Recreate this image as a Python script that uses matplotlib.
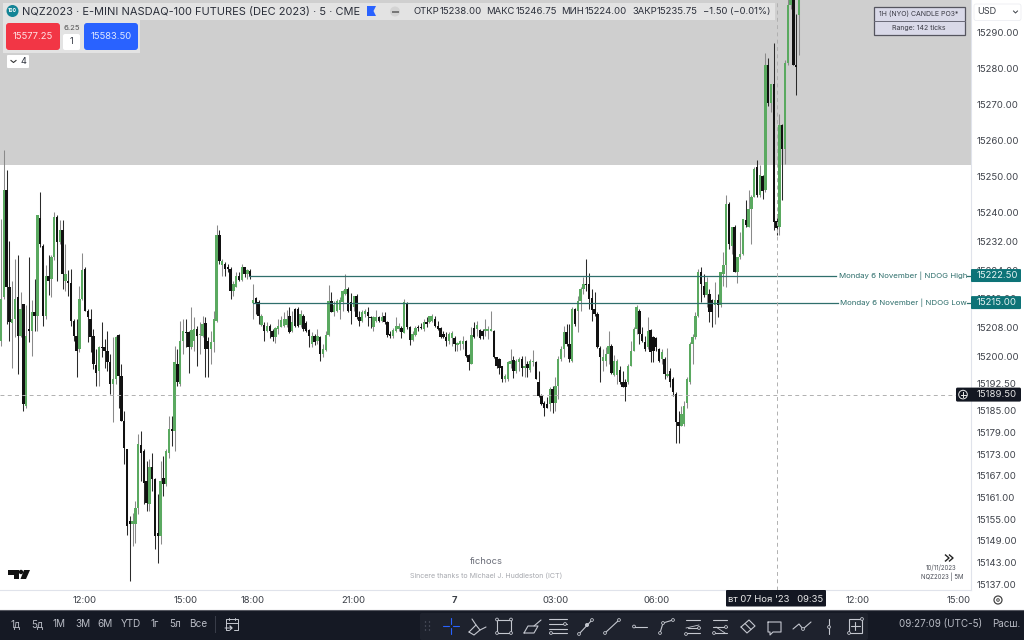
import matplotlib
matplotlib.use('Agg')
import matplotlib.pyplot as plt
from matplotlib.patches import Rectangle, FancyBboxPatch, Circle, Polygon

plt.rcParams['font.family'] = ['Inter', 'DejaVu Sans']

# NQZ2023 5 minute candles, points above 15000
base_price = 15000
direction = ("GGBBGGBGBG" "BGBGBBGBGG" "BGBGBBBBGG" "BBBBBGBBBB" "GGBBBBBGGG" "BBBGBBBGBG"
             "GBGBGGBBGG" "BGGBBGGGBG" "BBBGGBGBGB" "GBBGBGBBGG" "GGGBGBBGBB" "BGBGBGGGBG"
             "GGGGBBGBBG" "GBBGGBGBBB" "GGGBGBBGGB" "BGBGGBBBBB" "GGBGGGBBGB" "GBBGGGBBBB"
             "GGGBGGBGBG" "GBBBBBGBGG" "GGBBGBGGGB" "BBBBBGGGBG" "GBBBGGGGBB" "BGBBBBGBGB"
             "BBBGGGGGGG" "BBGBBGBGGG" "BGBGGGBGGG" "BGBGBGBBGB" "GGGBBG")
body_top = [216.0, 246.3, 246.3, 219.3, 210.5, 216.0, 216.5, 213.2, 214.6, 205.8,
            207.7, 212.3, 212.3, 239.2, 238.5, 230.8, 222.5, 222.5, 227.6, 238.7,
            238.7, 235.2, 235.2, 223.0, 221.1, 220.4, 210.0, 205.8, 216.0, 223.9,
            224.4, 212.6, 210.5, 205.8, 197.8, 202.6, 202.8, 202.8, 201.7, 198.4,
            193.8, 205.4, 206.1, 194.7, 182.2, 174.4, 154.4, 154.4, 158.1, 175.7,
            175.6, 173.9, 165.6, 169.3, 169.3, 166.0, 151.2, 165.6, 166.3, 173.9,
            179.9, 179.9, 198.4, 198.1, 204.4, 207.2, 206.8, 206.8, 207.4, 207.7,
            207.7, 206.3, 209.1, 209.3, 204.4, 204.0, 210.5, 233.6, 233.6, 226.5,
            225.6, 224.8, 224.4, 220.2, 222.5, 222.5, 225.0, 224.8, 223.9, 223.7,
            215.7, 216.2, 215.1, 211.4, 208.9, 208.6, 208.6, 207.2, 207.9, 208.6,
            210.2, 210.5, 210.5, 211.4, 209.5, 213.2, 213.2, 211.8, 211.3, 209.3,
            207.4, 205.8, 205.8, 205.8, 205.6, 202.1, 206.1, 215.5, 215.5, 214.2,
            215.5, 215.7, 218.3, 218.8, 218.8, 215.1, 216.7, 216.7, 210.9, 212.3,
            212.6, 212.5, 211.1, 210.9, 211.1, 211.1, 211.1, 211.4, 209.5, 206.3,
            207.4, 208.6, 208.6, 207.9, 215.1, 214.8, 208.3, 206.3, 207.9, 208.3,
            208.3, 209.5, 209.5, 211.4, 211.4, 210.5, 208.6, 207.9, 206.3, 205.6,
            206.3, 206.5, 205.2, 203.7, 204.3, 204.4, 204.3, 200.5, 206.1, 207.9,
            208.9, 207.4, 207.2, 207.7, 207.7, 207.7, 207.2, 199.8, 199.3, 197.3,
            194.7, 198.4, 198.9, 199.1, 198.9, 199.3, 199.3, 197.5, 198.0, 198.9,
            198.9, 198.4, 192.9, 189.2, 187.3, 187.0, 191.0, 191.0, 191.9, 199.3,
            202.1, 206.8, 206.8, 203.5, 213.2, 213.2, 215.5, 218.8, 220.2, 220.2,
            220.2, 216.2, 213.2, 211.8, 202.4, 199.8, 200.7, 203.0, 203.0, 198.9,
            198.9, 196.3, 192.9, 192.9, 197.5, 201.7, 207.7, 213.7, 212.6, 206.3,
            204.0, 207.2, 207.4, 205.4, 205.2, 202.1, 201.2, 199.3, 195.2, 196.1,
            193.8, 189.8, 181.8, 184.1, 186.4, 193.8, 203.5, 205.4, 211.4, 223.4,
            223.4, 219.7, 220.6, 217.4, 215.6, 215.6, 215.6, 223.4, 225.3, 242.4,
            242.2, 235.9, 235.9, 227.6, 228.5, 238.2, 237.8, 241.0, 244.3, 252.1,
            252.6, 250.3, 250.0, 280.8, 280.8, 275.7, 275.6, 237.6, 264.2, 264.2,
            281.3, 297.5, 305.0, 305.0, 280.8, 303.0]
body_bottom = [204.4, 216.5, 219.3, 209.5, 209.3, 210.5, 205.8, 205.8, 186.9, 186.4,
               207.0, 207.2, 211.4, 211.4, 231.3, 211.4, 211.4, 221.1, 221.6, 227.6,
               231.8, 231.8, 223.0, 221.1, 220.4, 210.0, 205.8, 201.7, 202.1, 216.0,
               212.8, 210.9, 205.4, 198.0, 195.6, 196.1, 202.4, 201.5, 198.4, 192.4,
               192.4, 193.8, 194.7, 182.2, 174.8, 153.1, 153.5, 153.5, 153.5, 158.1,
               173.4, 165.1, 159.5, 159.1, 166.0, 150.3, 150.3, 150.3, 164.8, 164.6,
               173.4, 179.4, 179.4, 192.9, 192.4, 204.4, 206.5, 202.8, 202.6, 204.4,
               205.8, 206.0, 205.8, 202.1, 202.1, 202.1, 204.0, 210.0, 226.5, 225.3,
               224.4, 224.4, 218.3, 218.3, 219.3, 221.3, 221.3, 223.0, 223.0, 222.0,
               214.8, 214.6, 211.4, 208.9, 207.2, 207.0, 207.2, 205.4, 205.6, 207.7,
               208.3, 208.6, 208.9, 206.8, 207.2, 208.6, 208.6, 208.9, 207.7, 207.2,
               205.8, 203.5, 204.0, 204.3, 200.7, 200.7, 201.9, 206.1, 212.3, 212.3,
               212.8, 213.0, 215.1, 217.4, 212.8, 212.8, 213.7, 210.9, 210.0, 210.0,
               211.8, 211.4, 210.6, 208.1, 209.8, 210.0, 209.8, 209.5, 206.0, 205.8,
               205.8, 207.2, 207.7, 206.8, 206.5, 208.3, 204.6, 204.6, 206.1, 207.9,
               207.9, 207.7, 209.1, 209.5, 210.0, 208.6, 207.7, 205.6, 205.6, 204.3,
               204.3, 205.2, 203.5, 203.3, 203.5, 203.5, 200.3, 198.4, 198.1, 205.4,
               207.7, 205.2, 205.8, 207.2, 207.2, 207.2, 199.8, 197.5, 197.0, 193.8,
               193.8, 193.8, 198.0, 196.1, 196.1, 198.4, 197.0, 196.8, 196.8, 196.3,
               198.4, 193.8, 189.2, 186.9, 185.9, 185.9, 186.8, 187.3, 187.3, 191.9,
               199.3, 202.1, 203.5, 199.3, 198.9, 209.1, 212.8, 215.5, 218.8, 220.0,
               216.0, 213.0, 211.8, 202.6, 199.8, 198.9, 198.9, 200.7, 195.6, 195.0,
               195.0, 192.9, 191.7, 191.5, 192.9, 197.5, 201.7, 207.7, 206.3, 204.4,
               202.1, 202.6, 201.2, 201.7, 202.6, 198.9, 199.3, 195.2, 194.7, 192.9,
               190.1, 181.8, 180.8, 180.8, 181.3, 187.3, 192.9, 203.5, 205.4, 211.4,
               220.2, 217.0, 217.0, 212.3, 212.3, 214.2, 214.2, 214.2, 223.0, 225.3,
               231.3, 230.8, 223.4, 223.4, 227.6, 228.5, 236.4, 235.9, 241.0, 244.3,
               244.7, 244.7, 245.9, 246.1, 270.2, 270.2, 237.3, 235.7, 235.9, 257.7,
               257.7, 281.3, 297.5, 280.8, 280.3, 294.7]
wick_top = [238.2, 257.2, 251.7, 232.2, 221.1, 227.1, 228.1, 217.9, 214.6, 214.2,
            227.6, 215.6, 221.6, 239.2, 245.6, 231.3, 225.3, 228.1, 228.1, 240.1,
            239.2, 238.0, 238.0, 231.3, 223.9, 224.4, 210.5, 210.5, 219.7, 228.7,
            224.8, 213.2, 213.2, 207.7, 202.1, 203.1, 209.5, 204.9, 207.2, 200.7,
            205.4, 205.8, 206.3, 198.0, 185.0, 174.4, 155.8, 156.8, 160.0, 178.5,
            179.4, 174.4, 171.1, 171.6, 173.4, 166.5, 161.9, 171.1, 172.5, 174.4,
            183.6, 183.6, 203.1, 202.1, 210.0, 210.5, 210.5, 207.2, 213.7, 210.9,
            208.6, 209.5, 211.4, 210.9, 205.4, 207.2, 212.8, 236.4, 235.0, 227.1,
            226.2, 225.7, 224.8, 221.1, 223.4, 223.4, 225.7, 225.0, 224.4, 224.4,
            220.2, 216.5, 215.6, 211.8, 209.5, 209.7, 209.1, 207.7, 208.1, 210.5,
            211.4, 212.3, 213.0, 213.7, 212.8, 213.5, 213.9, 213.0, 211.8, 209.8,
            207.7, 206.8, 206.3, 207.7, 205.8, 203.5, 207.2, 219.9, 217.9, 215.5,
            216.0, 216.5, 218.5, 222.8, 219.3, 217.6, 216.9, 217.4, 212.8, 213.0,
            213.2, 213.7, 211.4, 211.4, 213.0, 211.4, 212.3, 212.3, 209.8, 207.2,
            208.0, 211.1, 209.3, 208.6, 216.0, 215.1, 208.6, 207.2, 208.6, 208.9,
            209.3, 210.5, 210.9, 211.4, 211.8, 211.4, 210.0, 208.3, 207.2, 206.8,
            206.8, 207.0, 205.8, 204.0, 204.6, 205.8, 204.6, 200.7, 208.3, 209.5,
            210.0, 207.7, 207.7, 210.5, 208.6, 212.6, 207.4, 200.0, 199.6, 197.5,
            195.2, 198.9, 202.0, 200.3, 199.3, 200.0, 200.3, 200.3, 198.9, 199.3,
            201.8, 198.9, 196.1, 189.6, 187.8, 188.7, 191.5, 191.9, 194.3, 200.3,
            203.0, 208.6, 209.1, 209.1, 213.7, 213.5, 216.9, 219.3, 222.2, 227.1,
            223.1, 218.8, 217.9, 212.3, 203.0, 202.1, 202.6, 207.2, 203.5, 200.5,
            199.3, 197.5, 196.1, 193.8, 198.0, 204.4, 208.1, 214.2, 213.2, 208.1,
            205.8, 210.9, 207.7, 205.8, 205.5, 202.4, 202.1, 199.8, 202.4, 197.0,
            194.3, 190.1, 185.0, 186.4, 187.8, 194.3, 204.0, 206.3, 212.3, 224.3,
            224.8, 223.0, 222.0, 218.8, 216.0, 220.6, 217.4, 223.4, 229.0, 244.7,
            242.9, 235.9, 236.4, 227.6, 234.5, 238.2, 243.5, 246.1, 244.7, 252.6,
            254.6, 253.1, 250.3, 284.3, 282.7, 275.7, 287.0, 239.6, 267.4, 264.6,
            282.2, 301.0, 310.0, 310.0, 295.0, 310.0]
wick_bottom = [203.1, 216.0, 209.1, 204.4, 197.0, 205.4, 195.2, 205.4, 185.0, 185.9,
               204.0, 200.3, 207.2, 207.2, 230.4, 208.6, 210.5, 217.0, 216.5, 226.7,
               221.1, 231.3, 218.8, 218.3, 216.9, 208.6, 204.4, 194.3, 201.2, 215.6,
               212.8, 204.0, 201.2, 196.6, 191.9, 191.9, 199.8, 197.0, 196.1, 189.6,
               181.8, 192.4, 185.9, 182.2, 170.2, 150.7, 137.8, 147.5, 148.4, 156.3,
               165.6, 159.1, 157.2, 157.2, 162.8, 146.6, 142.9, 148.0, 161.4, 164.2,
               172.0, 175.3, 173.9, 191.9, 191.9, 200.7, 202.6, 195.6, 202.1, 201.7,
               197.5, 200.7, 205.4, 194.3, 194.3, 198.0, 201.2, 209.5, 225.7, 222.5,
               222.5, 223.4, 216.0, 216.9, 219.3, 221.1, 221.1, 222.0, 221.6, 221.6,
               210.5, 211.8, 209.1, 208.6, 204.4, 206.8, 205.2, 204.3, 203.8, 206.3,
               208.1, 208.3, 208.1, 206.5, 206.8, 208.3, 208.3, 208.1, 207.2, 206.8,
               202.6, 202.6, 203.3, 203.5, 198.9, 200.0, 201.7, 205.8, 212.3, 211.4,
               212.3, 210.5, 212.8, 217.2, 212.3, 209.1, 212.8, 210.5, 208.6, 209.5,
               210.9, 208.6, 207.9, 207.2, 209.5, 209.5, 209.5, 209.1, 205.5, 205.2,
               205.2, 206.8, 207.2, 205.2, 206.5, 207.7, 203.3, 204.4, 205.8, 207.2,
               207.7, 207.2, 208.3, 209.3, 209.5, 208.3, 207.4, 205.2, 205.2, 203.0,
               203.5, 203.0, 201.7, 201.7, 201.8, 202.1, 200.0, 196.3, 198.0, 205.2,
               205.8, 204.9, 204.9, 205.8, 204.9, 207.2, 199.6, 197.0, 195.2, 192.9,
               193.1, 193.3, 197.0, 194.1, 195.6, 196.1, 194.7, 194.4, 194.3, 195.9,
               197.5, 193.8, 188.7, 186.7, 183.6, 185.7, 185.0, 184.5, 185.0, 188.2,
               198.9, 199.8, 203.0, 198.4, 198.4, 208.6, 206.8, 212.8, 217.4, 218.3,
               213.2, 210.0, 211.4, 202.4, 192.9, 196.1, 197.5, 198.0, 195.2, 194.7,
               192.4, 192.4, 191.5, 187.8, 192.4, 197.5, 201.7, 206.3, 203.5, 204.0,
               201.7, 202.1, 198.4, 198.4, 201.7, 198.4, 198.0, 193.8, 194.4, 191.5,
               189.2, 176.2, 176.2, 180.8, 180.8, 185.9, 192.4, 198.0, 204.9, 210.9,
               215.1, 216.5, 213.7, 209.5, 208.2, 209.1, 210.9, 213.7, 219.7, 219.3,
               229.9, 228.5, 223.4, 220.4, 227.1, 228.1, 235.9, 235.9, 231.3, 244.3,
               244.3, 244.3, 243.8, 245.7, 269.4, 267.9, 235.0, 233.6, 233.6, 243.3,
               253.5, 280.8, 296.5, 280.8, 272.5, 283.6]

price_ticks = [15290, 15280, 15270, 15260, 15250, 15240, 15232, 15224, 15216, 15208, 15200,
               15192.5, 15185, 15179, 15173, 15167, 15161, 15155, 15149, 15143, 15137]
time_ticks = [30, 66, 90, 126, 162, 198, 234, 306, 342]
time_labels = ['12:00', '15:00', '18:00', '21:00', '7', '03:00', '06:00', '12:00', '15:00']
range_buttons = ['1д', '5д', '1М', '3М', '6М', 'YTD', '1г', '5л', 'Все']
range_x = [16, 37, 59, 83, 105, 131, 155, 175, 198]

ndog_high = 15222.50
ndog_low = 15215.00
zone_bottom = 15253
cursor_price = 15189.50
cursor_bar = 277

GREEN = '#5aa960'
BLACK = '#111111'
TEAL = '#2f6f6c'
DARK = '#131722'
TXT = '#3c4048'

fig = plt.figure(figsize=(10.24, 6.40), dpi=100, facecolor='white')
ax = fig.add_axes([0, 50 / 640, 971 / 1024, 590 / 640])
ax.set_xlim(-0.36, 346.43)
ax.set_ylim(15135.34, 15298.87)

# premium zone on top
ax.axhspan(zone_bottom, 15400, color='#cfcfcf', lw=0, zorder=0)

# candles
for i, d in enumerate(direction):
    wick_col = '#8a8a8a' if d == 'G' else '#2a2a2a'
    ax.plot([i, i], [base_price + wick_bottom[i], base_price + wick_top[i]],
            color=wick_col, lw=0.75, solid_capstyle='butt', zorder=2)
    ax.bar(i, body_top[i] - body_bottom[i], bottom=base_price + body_bottom[i], width=0.88,
           color=GREEN if d == 'G' else BLACK, lw=0, zorder=3)

# NDOG lines
ax.plot([88.6, 298.3], [ndog_high, ndog_high], color=TEAL, lw=0.9, zorder=4)
ax.plot([90, 299], [ndog_low, ndog_low], color=TEAL, lw=0.9, zorder=4)
ax.plot([345, 346.43], [ndog_high, ndog_high], color=TEAL, lw=0.9, zorder=4)
ax.plot([345, 346.43], [ndog_low, ndog_low], color=TEAL, lw=0.9, zorder=4)
ax.text(345, ndog_high, 'Monday 6 November | NDOG High', ha='right', va='center',
        fontsize=5.65, color=TEAL, zorder=5)
ax.text(345, ndog_low, 'Monday 6 November | NDOG Low', ha='right', va='center',
        fontsize=5.65, color=TEAL, zorder=5)

# crosshair
ax.plot([-0.36, 341], [cursor_price, cursor_price], color='#b0b0b0', lw=0.7, dashes=(4, 3.5), zorder=4)
ax.plot([cursor_bar, cursor_bar], [15135.34, 15298.87], color='#b0b0b0', lw=0.7, dashes=(4, 3.5), zorder=4)

for s in ['top', 'left']:
    ax.spines[s].set_visible(False)
ax.spines['right'].set_color('#e0e3eb')
ax.spines['bottom'].set_color('#e0e3eb')
ax.yaxis.tick_right()
ax.set_yticks(price_ticks)
ax.set_yticklabels(['%.2f' % p for p in price_ticks], fontsize=6.9, color=TXT)
ax.set_xticks(time_ticks)
ax.set_xticklabels(time_labels, fontsize=6.8, color=TXT)
ax.get_xticklabels()[4].set_fontweight('bold')
ax.tick_params(axis='both', length=0)
ax.tick_params(axis='y', pad=4.0)
ax.tick_params(axis='x', pad=4.5)

# everything else is in figure pixels
ov = fig.add_axes([0, 0, 1, 1], facecolor='none')
ov.set_xlim(0, 1024)
ov.set_ylim(640, 0)
ov.axis('off')


def box(x0, y0, x1, y1, fc, ec='none', lw=0, r=0, z=6):
    if r:
        p = FancyBboxPatch((x0 + r, y0 + r), x1 - x0 - 2 * r, y1 - y0 - 2 * r,
                           boxstyle='round,pad=%f,rounding_size=%f' % (r, r),
                           fc=fc, ec=ec, lw=lw, zorder=z)
    else:
        p = Rectangle((x0, y0), x1 - x0, y1 - y0, fc=fc, ec=ec, lw=lw, zorder=z)
    ov.add_patch(p)


def label(x, y, s, size=6.6, col=TXT, ha='center', **kw):
    ov.text(x, y, s, fontsize=size, color=col, ha=ha, va='center', zorder=8, **kw)


def y_px(price):
    return (15298.87 - price) * 590 / (15298.87 - 15135.34)


# legend strip
box(3, 3, 775, 20, '#e3e3e3', z=5)
box(3, 20, 140, 53, '#e3e3e3', z=5)
ov.add_patch(Circle((12.5, 11), 6, fc='#138496', zorder=7))
label(12.5, 11, '100', 3.6, 'white', fontweight='bold')
label(22, 11.5, 'NQZ2023 · E-MINI NASDAQ-100 FUTURES (DEC 2023) · 5 · CME', 7.93, '#2a2e39', ha='left')
ov.add_patch(Polygon([(367, 6), (376, 6), (373.5, 11), (376, 16), (367, 16)], fc='#2962ff', zorder=7))
ov.add_patch(Circle((395, 11.5), 5, fc='#d3d3d3', zorder=7))
box(391.5, 10.5, 398.5, 12.5, '#777777', z=8)
label(413, 11.5, 'ОТКР', 6.8, '#2a2e39', ha='left')
label(440, 11.5, '15238.00', 6.9, '#2a2e39', ha='left')
label(486, 11.5, 'МАКС', 6.8, '#2a2e39', ha='left')
label(515.5, 11.5, '15246.75', 6.9, '#2a2e39', ha='left')
label(561, 11.5, 'МИН', 6.8, '#2a2e39', ha='left')
label(585, 11.5, '15224.00', 6.9, '#2a2e39', ha='left')
label(632, 11.5, 'ЗАКР', 6.8, '#2a2e39', ha='left')
label(657, 11.5, '15235.75', 6.9, '#2a2e39', ha='left')
label(703, 11.5, '−1.50 (−0.01%)', 6.8, '#2a2e39', ha='left')

# buy and sell buttons
box(6, 23, 60, 50, '#f23645', r=3)
label(33, 36.5, '15577.25', 6.8, '#ffe3e6')
box(84, 23, 138, 50, '#2962ff', r=3)
label(111, 36.5, '15583.50', 6.8, '#dfe8ff')
label(71.5, 27.5, '6.25', 5.6, '#555555')
box(63, 34, 80, 50, 'white', r=2)
label(71.5, 42, '1', 6.4, '#2a2e39')
box(7, 55, 29, 68, 'white', r=1)
ov.plot([11, 13.5, 16], [60.5, 62.5, 60.5], color='#333333', lw=0.8, zorder=8)
label(23, 61.5, '4', 6.6, '#2a2e39')

# corner table
box(874, 6.5, 964.5, 35, '#d9d9e8', ec='#55555f', lw=0.9)
ov.plot([874, 964.5], [20.5, 20.5], color='#6a6a78', lw=0.7, zorder=7)
label(919, 13.5, '1H (NYO) CANDLE PO3*', 5.0, '#3a3a44')
label(919, 28, 'Range: 142 ticks', 5.0, '#3a3a44')

# currency box
box(974, 4, 1021, 20.5, 'white', ec='#eceef2', lw=0.6, r=2)
label(977.5, 12, 'USD', 6.6, TXT, ha='left')
ov.plot([1013.5, 1015.5, 1017.5], [11, 13, 11], color=TXT, lw=0.7, zorder=8)

# price tags
for price in [ndog_high, ndog_low]:
    yp = y_px(price)
    box(971, yp - 6.5, 1021, yp + 6.5, '#0d7377', r=1)
    label(977, yp, '%.2f' % price, 6.9, '#e6f3f3', ha='left')
yp = y_px(cursor_price)
box(956, yp - 7, 1021, yp + 7, DARK, r=1.5)
ov.add_patch(Circle((963, yp), 4.3, fc='none', ec='#e8e8e8', lw=0.7, zorder=8))
ov.plot([960.5, 965.5], [yp, yp], color='#e8e8e8', lw=0.7, zorder=8)
ov.plot([963, 963], [yp - 2.5, yp + 2.5], color='#e8e8e8', lw=0.7, zorder=8)
label(977, yp, '%.2f' % cursor_price, 6.9, '#e8e8e8', ha='left')

# watermark, logo and small notes
label(486, 562, 'fichocs', 6.8, '#6a6d78')
label(486, 576, 'Sincere thanks to Michael J. Huddleston (ICT)', 5.1, '#a6a8ae')
label(941, 568, '10/11/2023', 4.4, '#4a4d56')
label(942, 577, 'NQZ2023 | 5M', 4.4, '#4a4d56')
box(940, 550, 958, 566, 'white', z=6)
ov.plot([945.5, 949, 945.5], [555, 558, 561], color='#222222', lw=1, zorder=8)
ov.plot([949.5, 953, 949.5], [555, 558, 561], color='#222222', lw=1, zorder=8)
ov.add_patch(Polygon([(8, 570), (18.5, 570), (18.5, 579), (14, 579), (14, 574.5), (8, 574.5)], fc='#111111', zorder=7))
ov.add_patch(Circle((21, 572), 2.2, fc='#111111', zorder=7))
ov.add_patch(Polygon([(24, 570), (30, 570), (26, 579), (20.5, 579)], fc='#111111', zorder=7))

# crosshair time tag and settings
box(726, 590, 826, 606.5, DARK, r=1)
label(776, 599, "вт 07 Ноя '23   09:35", 6.8, '#e8e8e8')
ov.add_patch(Circle((998, 600), 4, fc='none', ec='#444444', lw=0.9, zorder=8))
ov.add_patch(Circle((998, 600), 1.3, fc='none', ec='#444444', lw=0.7, zorder=8))

# bottom toolbar
box(0, 610, 1024, 640, '#151924', z=6)
ov.plot([0, 1024], [609.7, 609.7], color='#555760', lw=0.8, zorder=7)
box(420, 613, 868, 640, '#1e222d', r=2, z=6)
for x_b, s in zip(range_x, range_buttons):
    label(x_b, 624, s, 7.2, '#b8bbc4')
ov.plot([214.5, 214.5], [616, 632], color='#3a3e4a', lw=0.7, zorder=8)
label(899, 624, '09:27:09 (UTC-5)', 7.1, '#b8bbc4', ha='left')
label(992, 624, 'Расш.', 7.1, '#b8bbc4', ha='left')

ICON = '#c4c7cf'


def seg(xs, ys, col=ICON, lw=0.8):
    ov.plot(xs, ys, color=col, lw=lw, zorder=8, solid_capstyle='round')


def node(x, y):
    ov.add_patch(Circle((x, y), 1.4, fc='#1e222d', ec=ICON, lw=0.6, zorder=9))


# calendar icon
seg([229, 225.5, 225.5, 238, 238, 234], [630, 630, 619, 619, 630, 630], lw=0.7)
seg([225.5, 238], [623, 623], lw=0.7)
seg([229, 229], [617.5, 620], lw=0.7)
seg([234.5, 234.5], [617.5, 620], lw=0.7)
seg([225, 232, 230, 232, 230], [628, 628, 626, 628, 630], lw=0.7)
# grip dots
for dx in [425.5, 429.5]:
    for dy in [622, 626, 630]:
        ov.add_patch(Circle((dx, dy), 0.7, fc='#555a66', zorder=8))
# crosshair (active tool)
seg([443, 449], [626, 626], '#2962ff')
seg([453, 459], [626, 626], '#2962ff')
seg([451, 451], [618, 624], '#2962ff')
seg([451, 451], [628, 634], '#2962ff')
# brush
seg([469, 476, 480, 474, 469], [632, 625, 630, 635, 632])
seg([476, 472], [625, 619])
seg([480, 486], [630, 627])
# rectangle
box(497, 619.5, 511, 633, 'none', ec=ICON, lw=0.8, z=8)
for p in [(497, 619.5), (511, 619.5), (497, 633), (511, 633)]:
    node(*p)
# brush 2
seg([524, 534, 538, 528, 524], [633, 633, 626, 626, 633])
seg([534, 541], [626, 620])
# fib lines
for yy in [619, 624, 629, 633]:
    seg([549, 567], [yy, yy])
node(565, 624)
node(551, 633)
# arrow
seg([579, 592], [634, 620])
node(579, 634)
node(592, 620)
ov.add_patch(Circle((587, 625), 2, fc=ICON, zorder=9))
# line
seg([605, 619], [633, 620])
node(605, 633)
node(619, 620)
# segment
seg([634, 647], [626.5, 626.5])
node(634, 626.5)
# path
seg([660, 663, 673], [633, 623, 620])
node(660, 633)
node(663, 623)
node(673, 620)
# channels
seg([686, 700], [620, 620])
seg([686, 699], [628, 625], lw=0.6)
seg([686, 700], [633, 633])
seg([688, 699], [628, 628])
node(699, 628)
node(686, 634)
seg([713, 727], [620, 620])
seg([713, 727], [627, 627])
seg([713, 727], [633, 633])
seg([716, 725], [627, 633], lw=0.6)
node(726, 627)
node(714, 633)
# eraser
seg([741, 749, 755, 747, 741], [627, 620, 626, 633, 627])
seg([745, 751], [623.5, 629.5])
# comment
seg([768, 781, 781, 773, 770, 770, 768, 768], [622, 622, 632, 632, 635, 632, 632, 622])
# polyline
seg([793, 799, 803, 811], [629, 624, 629, 622])
node(803, 629)
# vertical
seg([829, 829], [619, 634])
node(829, 627)
# measure box
box(849, 619, 862, 633, 'none', ec=ICON, lw=0.8, z=8)
seg([855, 855], [622, 630])
seg([851, 860], [626, 626])
node(849, 633)
node(862, 619)

plt.savefig('out.png', dpi=100)
